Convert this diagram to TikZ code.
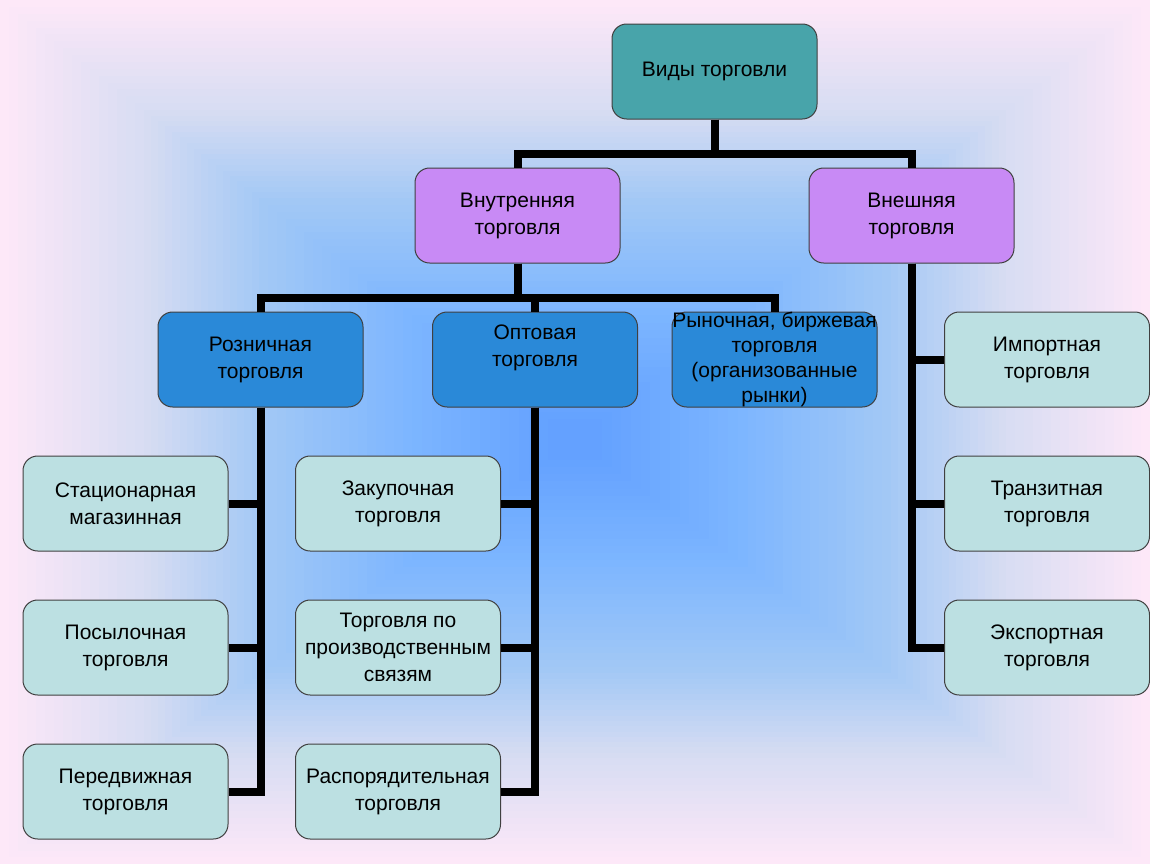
\documentclass[tikz,border=0pt]{standalone}
\usepackage{fontspec}
\setmainfont{Liberation Sans}
\definecolor{bgpink}{RGB}{253,232,248}
\definecolor{bglav}{RGB}{214,220,242}
\definecolor{bgsky}{RGB}{162,200,245}
\definecolor{bgmid}{RGB}{125,182,255}
\definecolor{bgcore}{RGB}{98,160,255}
\definecolor{teal}{RGB}{72,164,170}
\definecolor{lilac}{RGB}{200,138,245}
\definecolor{azure}{RGB}{42,137,216}
\definecolor{mint}{RGB}{188,224,226}
\begin{document}
\begin{tikzpicture}[x=0.75pt,y=-0.75pt,
    box/.style={draw=black!75,line width=0.75pt,rounded corners=11pt,
        minimum width=153.75pt,minimum height=71.25pt,inner sep=0pt,
        align=center,font=\fontsize{15.75}{20.25}\selectfont},
    conn/.style={line width=6pt,line join=miter}]
    \useasboundingbox (0,0) rectangle (1150,864);
    % background
    \foreach \ta/\tb/\ca/\cb in {0/0.25/bgpink/bglav,0.25/0.45/bglav/bgsky,
            0.45/0.7/bgsky/bgmid,0.7/0.97/bgmid/bgcore}{
        \foreach \k in {0,...,15}{
            \pgfmathsetmacro\s{1-\ta-(\tb-\ta)*\k/16}
            \pgfmathtruncatemacro\p{100*\k/16}
            \fill[\cb!\p!\ca] ({575-575*\s},{440-440*\s}) rectangle ({575+575*\s},{440+424*\s});
        }
    }
    % top levels
    \node[box,fill=teal] (top) at (714.5,71.5) {Виды торговли};
    \node[box,fill=lilac] (intr) at (517.5,215.5) {Внутренняя\\торговля};
    \node[box,fill=lilac] (extr) at (911.5,215.5) {Внешняя\\торговля};
    \node[box,fill=azure] (retail) at (260.5,359.5) {Розничная\\торговля};
    \node[box,fill=azure] (whole) at (535,359.5) {Оптовая\\торговля\\\mbox{}};
    \node[box,fill=azure,font=\fontsize{15.75}{18.75}\selectfont] (market) at (774.5,359.5)
        {Рыночная, биржевая\\торговля\\(организованные\\рынки)};
    % left column
    \node[box,fill=mint] (stat) at (125.5,503.5) {Стационарная\\магазинная};
    \node[box,fill=mint] (parcel) at (125.5,647.5) {Посылочная\\торговля};
    \node[box,fill=mint] (mobile) at (125.5,791.5) {Передвижная\\торговля};
    % middle column
    \node[box,fill=mint] (purch) at (398,503.5) {Закупочная\\торговля};
    \node[box,fill=mint] (ties) at (398,647.5) {Торговля по\\производственным\\связям};
    \node[box,fill=mint] (distr) at (398,791.5) {Распорядительная\\торговля};
    % right column
    \node[box,fill=mint] (import) at (1047,359.5) {Импортная\\торговля};
    \node[box,fill=mint] (transit) at (1047,503.5) {Транзитная\\торговля};
    \node[box,fill=mint] (export) at (1047,647.5) {Экспортная\\торговля};
    % connectors
    \draw[conn] (top.south) -- ++(0,34) -| (intr.north);
    \draw[conn] (top.south) -- ++(0,34) -| (extr.north);
    \draw[conn] (intr.south) -- ++(0,34) -| (retail.north);
    \draw[conn] (intr.south) -- ++(0,34) -| (whole.north);
    \draw[conn] (intr.south) -- ++(0,34) -| (market.north);
    \foreach \n in {stat,parcel,mobile} \draw[conn] (retail.south) |- (\n.east);
    \foreach \n in {purch,ties,distr} \draw[conn] (whole.south) |- (\n.east);
    \foreach \n in {import,transit,export} \draw[conn] (extr.south) |- (\n.west);
\end{tikzpicture}
\end{document}
